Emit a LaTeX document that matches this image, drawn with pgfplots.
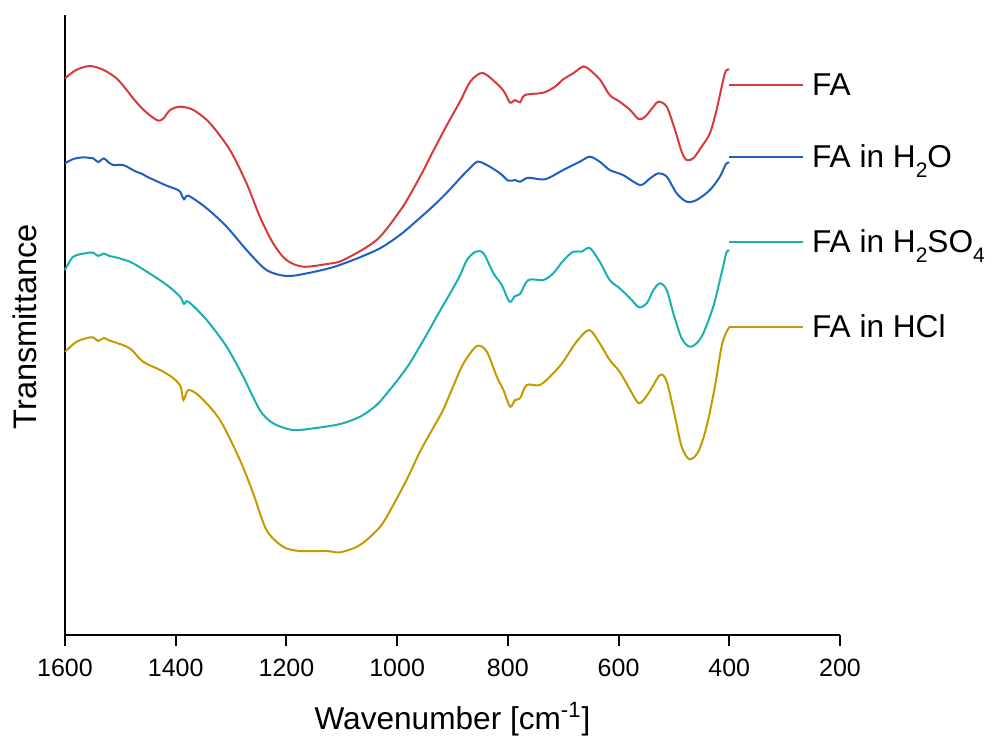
\documentclass[border=0pt]{standalone}
\usepackage{pgfplots}
\pgfplotsset{compat=1.18}
\usepackage{fontspec}
\setmainfont{Liberation Sans}
\definecolor{cFA}{HTML}{D63A3C}
\definecolor{cH2O}{HTML}{1F5FBF}
\definecolor{cH2SO4}{HTML}{1BB0B0}
\definecolor{cHCl}{HTML}{C49A00}
\newcommand{\sub}[1]{\raisebox{-0.32em}{\fontsize{10.5bp}{10.5bp}\selectfont #1}}

\pgfplotstableread{
w y
1600 556.7
1580 565
1555 569
1530 565
1507 556.7
1490 546
1477 536.7
1461 526.7
1445 519
1431 514.3
1422 516.7
1410 525
1392 528.3
1368 525
1338 511.7
1302 485
1272 451.7
1248 418.3
1224 391.7
1200 375
1170 368.3
1127 371
1097 375
1037 395
995 424
977 440
955 462
932 487
910 510
886 534
868 553.3
850 561.7
838 560
814 548.3
805 541.7
796 532.3
787 535
778 532.7
769 540
736 542.3
715 548.3
700 555.7
682 561.7
667 567.7
658 567.7
634 555.7
616 540
598 533.3
579 525
564 516
552 518.3
537 528.3
528 533.3
513 528.3
498 505
486 483.3
477 475
465 476.7
450 488.3
435 501.7
423 525
411 555
406 564.3
400 565.7
}\tFA

\pgfplotstableread{
w y
1600 471.7
1585 476
1567 477.7
1555 477
1549 476.7
1540 473
1530 476.5
1520 472
1513 470
1495 470
1483 466.7
1470 463
1460 461
1452 458.3
1435 454
1416 449.3
1400 446
1392 443.3
1385 435.7
1377 439.3
1344 426.7
1308 408.3
1272 385
1236 365
1200 359
1163 361.7
1109 369
1037 385
995 400
959 417
929 432
904 446
886 457
870 466
855 473.3
838 470
814 461.7
799 454.3
787 455
778 453.3
763 457.3
733 455.7
700 465
670 473.3
652 478.3
634 473.3
616 465
592 460
561 450
543 456.7
528 461.7
513 458.3
495 441.7
477 433.3
459 435
435 445
417 458.3
406 471
400 472.3
}\tHtwoO

\pgfplotstableread{
w y
1600 365
1585 378.3
1560 382
1549 382.3
1540 379
1530 381.5
1520 379
1513 378.3
1483 373.3
1452 363.3
1416 350
1392 338.3
1385 331
1377 333.3
1344 315
1308 288.3
1278 258.3
1248 225
1224 211.7
1188 205
1151 206.7
1103 211
1067 218.3
1037 230
1015 244
995 258
977 272
947 300
929 318
904 342
886 360
874 375
858 383.3
844 381.7
826 361.7
811 350
797 333.3
787 339
778 341
763 355
736 355
718 361.7
700 374.3
682 383.3
667 383.3
652 387
634 373.3
616 355
598 346.7
579 336.7
563 327.7
549 331.7
537 345
525 351.7
513 345
501 321.7
486 296.7
472 288.3
459 291.7
447 301.7
429 328.3
414 361.7
405 382.7
400 384
}\tHtwoSOfour

\pgfplotstableread{
w y
1600 283.3
1579 293.3
1560 297
1549 297.7
1540 294
1530 297
1520 294.5
1513 293.3
1483 286.7
1459 273.3
1428 265
1404 256.7
1391 248.3
1386 235
1377 245
1356 238.3
1320 215
1284 175
1260 141.7
1236 105
1206 88.3
1176 84
1127 84
1103 82.7
1067 90
1031 108
1010 127
983 155
959 183
935 207
917 225
900 247
880 271.7
856 289
838 283.3
820 258.3
808 245
796 228.3
787 235
778 236.7
766 250
742 250
718 261.7
700 273.3
676 293.3
653 305
634 291.7
616 275
598 263.3
579 245
563 231.7
546 241.7
525 260
513 253.3
498 218.3
486 188.3
472 175.7
456 183.3
441 208.3
426 248.3
414 288.3
405 303.3
400 307.7
}\tHCl

\begin{document}
\begin{tikzpicture}
\useasboundingbox (-32.5bp,-52.5bp) rectangle (468bp,317.5bp);
\begin{axis}[
  at={(0,0)}, anchor=south west,
  scale only axis, width=387.5bp, height=310bp,
  clip=false,
  x dir=reverse, xmin=200, xmax=1600, ymin=0, ymax=620,
  xtick={200,400,...,1600}, ytick=\empty,
  axis x line*=bottom, axis y line*=left,
  axis line style={-, line width=1bp, black},
  tick align=outside, major tick length=5.5bp,
  tick style={black, line width=1bp},
  /pgf/number format/assume math mode=true,
  /pgf/number format/1000 sep={},
  xticklabel style={font=\fontsize{12.5bp}{15bp}\selectfont, inner sep=0pt, anchor=north, yshift=-6.5bp},
  xlabel={Wavenumber [cm\textsuperscript{-1}]},
  xlabel style={at={(axis description cs:0.5,-0.1532)}, anchor=base, font=\fontsize{15.8bp}{18bp}\selectfont},
  ylabel={Transmittance},
  ylabel style={at={(axis description cs:-0.0365,0.497)}, anchor=base, font=\fontsize{16.3bp}{18bp}\selectfont},
  every axis plot/.append style={line width=1bp},
]
\addplot[cFA, smooth, tension=0.5] table[x=w,y=y] {\tFA};
\addplot[cH2O, smooth, tension=0.5] table[x=w,y=y] {\tHtwoO};
\addplot[cH2SO4, smooth, tension=0.5] table[x=w,y=y] {\tHtwoSOfour};
\addplot[cHCl, smooth, tension=0.5] table[x=w,y=y] {\tHCl};
% legend lines
\addplot[cFA, forget plot] coordinates {(400,550) (267,550)};
\addplot[cH2O, forget plot] coordinates {(400,478) (267,478)};
\addplot[cH2SO4, forget plot] coordinates {(400,393) (267,393)};
\addplot[cHCl, forget plot] coordinates {(400,308) (267,308)};
\node[anchor=base west, inner sep=0pt, font=\fontsize{15.8bp}{18bp}\selectfont] at (axis cs:251,540) {FA};
\node[anchor=base west, inner sep=0pt, font=\fontsize{15.8bp}{18bp}\selectfont] at (axis cs:251,468) {FA in H\sub{2}O};
\node[anchor=base west, inner sep=0pt, font=\fontsize{15.8bp}{18bp}\selectfont] at (axis cs:251,383) {FA in H\sub{2}SO\sub{4}};
\node[anchor=base west, inner sep=0pt, font=\fontsize{15.8bp}{18bp}\selectfont] at (axis cs:251,298) {FA in HCl};
\end{axis}
\end{tikzpicture}
\end{document}
